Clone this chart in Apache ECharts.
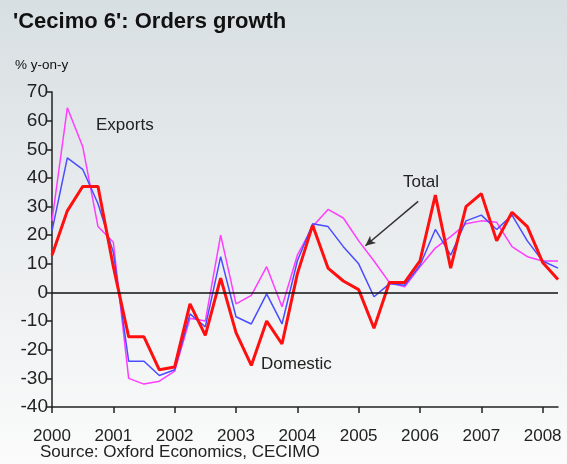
<!DOCTYPE html>
<html>
<head>
<meta charset="utf-8">
<script src="https://cdn.jsdelivr.net/npm/echarts@6/dist/echarts.min.js"></script>
<style>
  html, body { margin: 0; padding: 0; }
  #chart { width: 567px; height: 464px; }
</style>
</head>
<body>
<div id="chart"></div>
<script>
const periods = [
  "2000Q1", "2000Q2", "2000Q3", "2000Q4", "2001Q1", "2001Q2", "2001Q3", "2001Q4",
  "2002Q1", "2002Q2", "2002Q3", "2002Q4", "2003Q1", "2003Q2", "2003Q3", "2003Q4",
  "2004Q1", "2004Q2", "2004Q3", "2004Q4", "2005Q1", "2005Q2", "2005Q3", "2005Q4",
  "2006Q1", "2006Q2", "2006Q3", "2006Q4", "2007Q1", "2007Q2", "2007Q3", "2007Q4",
  "2008Q1", "2008Q2"
];
const domestic = [13, 28.5, 37, 37, 9, -15.5, -15.5, -27, -26, -4, -15, 5, -14, -25.5, -10, -18,
  6.5, 23.5, 8.5, 4, 1, -12.5, 3.5, 3.5, 11, 34, 8.5, 30, 34.5, 18, 28, 23, 10.5, 4.5];
const total = [21.5, 47, 43, 31, 14, -24, -24, -29, -27, -7.5, -12, 12.5, -8.5, -11, -0.5, -11,
  11, 24, 23, 16, 10, -1.5, 3, 2.5, 9.5, 22, 13, 25, 27, 22, 27, 18, 11, 8.5];
const exportsGrowth = [25, 64.5, 51, 23, 17.5, -30, -32, -31, -27.5, -9, -10, 20, -4, -1, 9, -5,
  13, 23, 29, 26, 18, 11, 3.5, 2, 9, 15.5, 19.5, 24, 25, 24.5, 16, 12.5, 11, 11];
const yearTicks = [2000, 2001, 2002, 2003, 2004, 2005, 2006, 2007, 2008];

// quarter label -> position on a continuous year axis
const xOf = p => Number(p.slice(0, 4)) + (Number(p.slice(5)) - 1) / 4;
const pairs = vals => vals.map((v, i) => [xOf(periods[i]), v]);

const chart = echarts.init(document.getElementById("chart"));
const font = "Liberation Sans, Arial, sans-serif";

chart.setOption({
  backgroundColor: new echarts.graphic.LinearGradient(0, 0, 0, 1, [
    { offset: 0, color: "#d8dfe2" },
    { offset: 1, color: "#fbfbfb" },
  ]),
  animation: false,
  textStyle: { fontFamily: font },
  title: [
    {
      text: "'Cecimo 6': Orders growth",
      left: 13, top: 11, padding: 0,
      textStyle: { fontSize: 22, fontWeight: "bold", color: "#111", fontFamily: font },
    },
    {
      text: "% y-on-y",
      left: 15, top: 58, padding: 0,
      textStyle: { fontSize: 13.5, fontWeight: "normal", color: "#111", fontFamily: font },
    },
    {
      text: "Source: Oxford Economics, CECIMO",
      left: 40, top: 444, padding: 0,
      textStyle: { fontSize: 17, fontWeight: "normal", color: "#222", fontFamily: font },
    },
  ],
  grid: { left: 52, right: 9, top: 92, bottom: 57 },
  xAxis: {
    type: "value",
    min: 2000,
    max: 2008.25,
    interval: 1,
    axisLine: { onZero: false, lineStyle: { color: "#222", width: 1.5 } },
    axisTick: { show: true, length: 6, customValues: yearTicks, lineStyle: { color: "#222", width: 1.5 } },
    axisLabel: {
      customValues: yearTicks,
      formatter: v => String(v),
      color: "#222", fontSize: 17, margin: 21, fontFamily: font,
    },
    splitLine: { show: false },
  },
  yAxis: {
    type: "value",
    min: -40,
    max: 70,
    interval: 10,
    axisLine: { show: true, onZero: false, lineStyle: { color: "#222", width: 1.5 } },
    axisTick: { show: true, length: 5, lineStyle: { color: "#222", width: 1.5 } },
    axisLabel: { color: "#222", fontSize: 19, margin: 4, fontFamily: font },
    splitLine: { show: false },
  },
  series: [
    {
      name: "Exports",
      type: "line",
      data: pairs(exportsGrowth),
      showSymbol: false,
      lineStyle: { color: "#ff3cff", width: 1.5 },
      z: 2,
      markLine: {
        silent: true,
        symbol: "none",
        label: { show: false },
        data: [
          { yAxis: 0, lineStyle: { color: "#111", width: 1.5, type: "solid" } },
          [
            { coord: [2005.97, 31.8], symbol: "none" },
            { coord: [2005.11, 16.3], symbol: "arrow", symbolSize: [7, 10] },
          ],
        ],
        lineStyle: { color: "#333", width: 1.5, type: "solid" },
      },
    },
    {
      name: "Total",
      type: "line",
      data: pairs(total),
      showSymbol: false,
      lineStyle: { color: "#4a4cff", width: 1.5 },
      z: 3,
    },
    {
      name: "Domestic",
      type: "line",
      data: pairs(domestic),
      showSymbol: false,
      lineStyle: { color: "#ff0f0f", width: 3 },
      z: 4,
    },
  ],
  graphic: [
    { type: "text", left: 96, top: 117, style: { text: "Exports", font: "17px " + font, fill: "#222" } },
    { type: "text", left: 403, top: 174, style: { text: "Total", font: "17px " + font, fill: "#222" } },
    { type: "text", left: 261, top: 356, style: { text: "Domestic", font: "17px " + font, fill: "#222" } },
  ],
});
</script>
</body>
</html>
